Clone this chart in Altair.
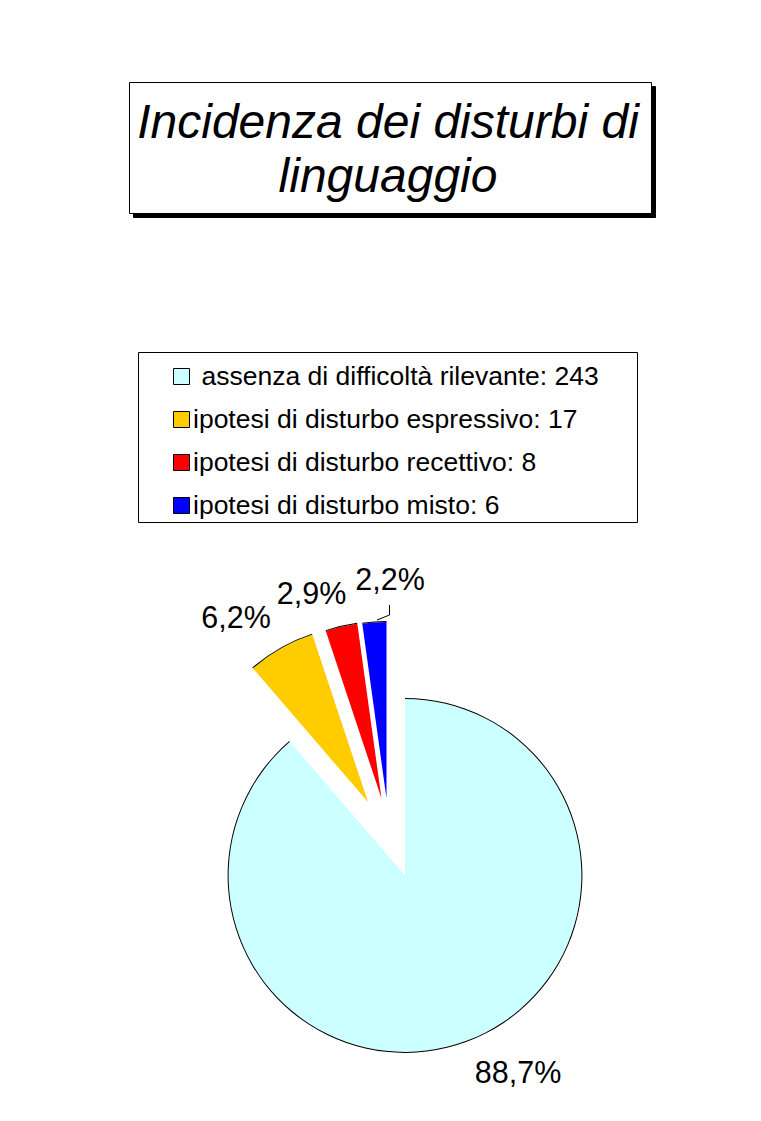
import altair as alt
import pandas as pd

# ---------------- data ----------------
categories = [
    "assenza di difficoltà rilevante",
    "ipotesi di disturbo espressivo",
    "ipotesi di disturbo recettivo",
    "ipotesi di disturbo misto",
]
counts = [243, 17, 8, 6]
colors = ["#CCFFFF", "#FFCC00", "#FF0000", "#0000FF"]
title_lines = ["Incidenza dei disturbi di", "linguaggio"]

# ---------------- layout / style ----------------
M = 8                      # page margin
W, H = 745, 1105


def px(v):
    return v - M


FONT = "Liberation Sans"
CX, CY, R = px(405), px(875.5), 177
explode_dx = [0, -37, -23.5, -18.5]
explode_dy = [0, -73.5, -77, -77]
label_x = [px(518), px(236), px(311.5), px(390)]
label_y = [px(1083), px(628), px(604), px(590)]
legend_indent = [8.5, 0, 0, 0]

leader_x = [px(389.5), px(389.5), px(377)]
leader_y = [px(605), px(615), px(620)]

# ---------------- tables ----------------
pie = pd.DataFrame({
    "cat": categories, "n": counts, "color": colors, "order": list(range(len(counts))),
    "dx": explode_dx, "dy": explode_dy, "lx": label_x, "ly": label_y,
})

legend = pd.DataFrame({
    "label": [c + ": " + str(n) for c, n in zip(categories, counts)],
    "color": colors,
    "i": list(range(len(counts))),
    "indent": legend_indent,
})

boxes = pd.DataFrame({
    "x": [px(133.5), px(129.5), px(138.5)],
    "x2": [px(655.5), px(651.5), px(637.5)],
    "y": [px(86.5), px(82.5), px(352.5)],
    "y2": [px(217.5), px(213.5), px(522.5)],
    "fill": ["#000000", "#FFFFFF", "#FFFFFF"],
})

titles = pd.DataFrame({"t": title_lines, "y": [px(138), px(192)], "x": [px(388), px(388)]})
leader = pd.DataFrame({"x": leader_x, "y": leader_y, "k": list(range(len(leader_x)))})

# ---------------- layers ----------------
box_layer = alt.Chart(boxes).mark_rect(stroke="black", strokeWidth=1).encode(
    x=alt.X("x:Q", scale=None), x2="x2:Q",
    y=alt.Y("y:Q", scale=None), y2="y2:Q",
    fill=alt.Fill("fill:N", scale=None),
)

title_layer = alt.Chart(titles).mark_text(
    font=FONT, fontSize=48, fontStyle="italic", align="center", baseline="alphabetic", color="black"
).encode(x=alt.X("x:Q", scale=None), y=alt.Y("y:Q", scale=None), text="t:N")

leg_sq = alt.Chart(legend).transform_calculate(
    x0=f"{px(173.5)}", x1=f"{px(189.5)}",
    y0=f"{px(368.5)} + datum.i * 43", y1=f"{px(384.5)} + datum.i * 43",
).mark_rect(stroke="black", strokeWidth=1).encode(
    x=alt.X("x0:Q", scale=None), x2="x1:Q",
    y=alt.Y("y0:Q", scale=None), y2="y1:Q",
    fill=alt.Fill("color:N", scale=None),
)

leg_txt = alt.Chart(legend).transform_calculate(
    tx=f"{px(193)} + datum.indent", ty=f"{px(385)} + datum.i * 43",
).mark_text(font=FONT, fontSize=26.5, align="left", baseline="alphabetic", color="black").encode(
    x=alt.X("tx:Q", scale=None), y=alt.Y("ty:Q", scale=None), text="label:N"
)

base = alt.Chart(pie).transform_joinaggregate(total="sum(n)").transform_window(
    cum="sum(n)", sort=[alt.SortField("order")], frame=[None, 0]
).transform_calculate(
    t1="datum.cum / datum.total * 2 * PI",
    t0="(datum.cum - datum.n) / datum.total * 2 * PI",
    cx=f"{CX} + datum.dx",
    cy=f"{CY} + datum.dy",
    pct="replace(format(datum.n / datum.total * 100, '.1f'), '.', ',') + '%'",
)

arc_enc = dict(
    x=alt.X("cx:Q", scale=None, stack=None),
    y=alt.Y("cy:Q", scale=None, stack=None),
    theta=alt.Theta("t0:Q", scale=None, stack=None),
    theta2="t1:Q",
)

arcs = base.mark_arc(radius=R - 0.5, radius2=0, stroke=None).encode(
    fill=alt.Fill("color:N", scale=None), **arc_enc
)
rims = base.mark_arc(radius=R + 0.4, radius2=R - 0.6, color="black").encode(**arc_enc)

labels = base.mark_text(font=FONT, fontSize=30.5, align="center", baseline="alphabetic", color="black").encode(
    x=alt.X("lx:Q", scale=None), y=alt.Y("ly:Q", scale=None), text="pct:N"
)

leader_layer = alt.Chart(leader).mark_line(color="black", strokeWidth=1).encode(
    x=alt.X("x:Q", scale=None), y=alt.Y("y:Q", scale=None), order="k:Q"
)

chart = alt.layer(
    box_layer, title_layer, leg_sq, leg_txt, arcs, rims, labels, leader_layer
).properties(
    width=W, height=H, padding=0, autosize=alt.AutoSizeParams(type="none"),
    background="white",
).configure_view(stroke=None)

chart.save("out.html", embed_options={"renderer": "svg", "actions": False})
